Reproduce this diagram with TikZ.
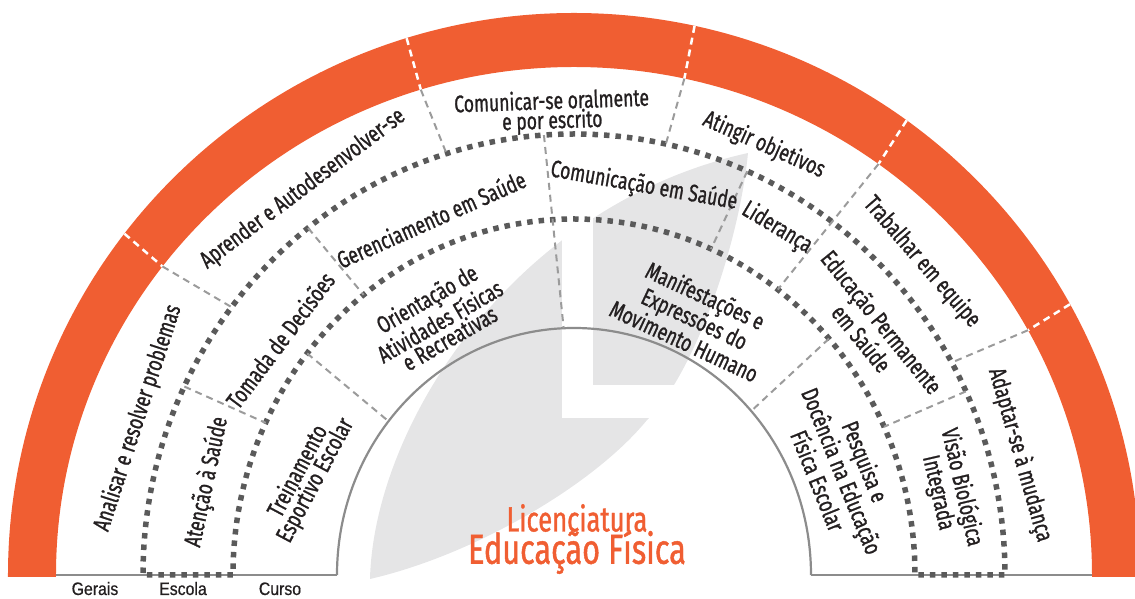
\documentclass[tikz,border=0pt]{standalone}
\usepackage{fontspec}
\setmainfont{Fira Sans}[FakeStretch=0.73, FakeBold=1]
\newfontfamily\basefont{Liberation Sans}[FakeStretch=0.88, FakeBold=0.6]

\definecolor{ringorange}{RGB}{240,94,50}
\definecolor{dotgray}{RGB}{90,90,90}
\definecolor{cutgraycol}{RGB}{155,155,155}
\definecolor{leafgray}{RGB}{229,229,230}
\definecolor{labelblack}{RGB}{35,31,32}
\definecolor{linegray}{RGB}{140,140,140}

\tikzset{
  lbl/.style={text=labelblack, font=\fontsize{24}{19.5}\selectfont, align=center, inner sep=0pt},
  ringdots/.style={dotgray, line width=5.5pt, dash pattern=on 5.5pt off 6pt},
  cutgray/.style={cutgraycol, line width=2pt, dash pattern=on 7pt off 5pt},
  cutwhite/.style={white, line width=2.5pt, dash pattern=on 7pt off 5pt},
  baselbl/.style={text=labelblack, font=\basefont\fontsize{18}{18}\selectfont, anchor=base}
}

\begin{document}
\begin{tikzpicture}[x=1pt, y=1pt]
  \useasboundingbox (-574,-24) rectangle (561,575);

  % leaf in the back, with the white L cut out
  \fill[leafgray] (-204,-4) .. controls (-200,150) and (-60,370) .. (174,422)
    .. controls (165,330) and (120,200) .. (73,155)
    .. controls (20,90) and (-100,20) .. (-204,-4) -- cycle;
  \fill[white] (-12,157) rectangle (19,440);
  \fill[white] (-12,157) rectangle (110,190);

  % orange band
  \fill[ringorange] (-566,-2) -- (-566,0) arc[start angle=180, end angle=0, x radius=566, y radius=562]
    -- (566,-2) -- (518,-2) -- (518,0) arc[start angle=0, end angle=180, x radius=518, y radius=508]
    -- (-518,-2) -- cycle;

  % base line and inner half circle
  \draw[linegray, line width=2pt] (-518,0) -- (-237,0);
  \draw[linegray, line width=2pt] (237,0) -- (518,0);
  \draw[linegray, line width=2.2pt] (-237,0) arc[start angle=180, end angle=0, x radius=237, y radius=247];

  % dotted ring (Escola)
  \draw[ringdots] (-341,0) -- (-431,0) arc[start angle=180, end angle=0, x radius=431, y radius=441]
    -- (341,0) arc[start angle=0, end angle=180, x radius=341, y radius=356];

  % dividers, outer ring
  \draw[cutwhite] (142.6:566 and 562) -- (142.6:518 and 508);
  \draw[cutgray] (142.6:518 and 508) -- (142.6:431 and 441);
  \draw[cutwhite] (107.2:566 and 562) -- (107.2:518 and 508);
  \draw[cutgray] (107.2:518 and 508) -- (107.2:431 and 441);
  \draw[cutwhite] (77.7:566 and 562) -- (77.7:518 and 508);
  \draw[cutgray] (77.7:518 and 508) -- (77.7:431 and 441);
  \draw[cutwhite] (54:566 and 562) -- (54:518 and 508);
  \draw[cutgray] (54:518 and 508) -- (53.3:341 and 356);
  \draw[cutwhite] (28.8:566 and 562) -- (28.8:518 and 508);
  \draw[cutgray] (28.8:518 and 508) -- (28.8:431 and 441);

  % dividers, middle ring
  \draw[cutgray] (154.7:431 and 441) -- (154.7:341 and 356);
  \draw[cutgray] (128.1:431 and 441) -- (128.1:341 and 356);
  \draw[cutgray] (94:431 and 441) -- (92.5:237 and 247);
  \draw[cutgray] (66.3:431 and 441) -- (66.3:341 and 356);
  \draw[cutgray] (24.6:431 and 441) -- (24.6:341 and 356);

  % dividers, inner ring
  \draw[cutgray] (141.5:341 and 356) -- (141.5:237 and 247);
  \draw[cutgray] (41.6:341 and 356) -- (41.6:237 and 247);

  % Gerais
  \node[lbl, rotate=72] (analisar) at (-436,157) {Analisar e resolver problemas};
  \node[lbl, rotate=37] (aprender) at (-271,386) {Aprender e Autodesenvolver-se};
  \node[lbl, rotate=2] (comunicar) at (-22,463) {Comunicar-se oralmente\\e por escrito};
  \node[lbl, rotate=-24] (atingir) at (190,430) {Atingir objetivos};
  \node[lbl, rotate=-49] (trabalhar) at (348,313) {Trabalhar em equipe};
  \node[lbl, rotate=-74] (adaptar) at (446,120) {Adaptar-se à mudança};

  % Escola
  \node[lbl, rotate=78] (atencao) at (-367,93) {Atenção à Saúde};
  \node[lbl, rotate=53] (tomada) at (-294,235) {Tomada de Decisões};
  \node[lbl, rotate=24] (gerenciamento) at (-143,356) {Gerenciamento em Saúde};
  \node[lbl, rotate=-10] (comunicacao) at (70,389) {Comunicação em Saúde};
  \node[lbl, rotate=-31] (lideranca) at (203,347) {Liderança};
  \node[lbl, rotate=-51] (educacao) at (298,245) {Educação Permanente\\em Saúde};
  \node[lbl, rotate=-77] (visao) at (376,85) {Visão Biológica\\Integrada};

  % Curso
  \node[lbl, rotate=62] (treinamento) at (-267,99) {Treinamento\\Esportivo Escolar};
  \node[lbl, rotate=30] (orientacao) at (-136,257) {Orientação de\\Atividades Físicas\\e Recreativas};
  \node[lbl, rotate=-25] (manifestacoes) at (121,257) {Manifestações e\\Expressões do\\Movimento Humano};
  \node[lbl, rotate=-68] (pesquisa) at (268,104) {Pesquisa e\\Docência na Educação\\Física Escolar};

  % centre title
  \node[text=ringorange, font=\fontsize{35}{35}\selectfont] (licenciatura) at (3,57) {Licenciatura};
  \node[text=ringorange, font=\fontsize{42}{42}\selectfont] (titulo) at (3,23) {Educação Física};

  % ring names
  \node[baselbl] (gerais) at (-479,-20) {Gerais};
  \node[baselbl] (escola) at (-391,-20) {Escola};
  \node[baselbl] (curso) at (-294,-20) {Curso};
\end{tikzpicture}
\end{document}
